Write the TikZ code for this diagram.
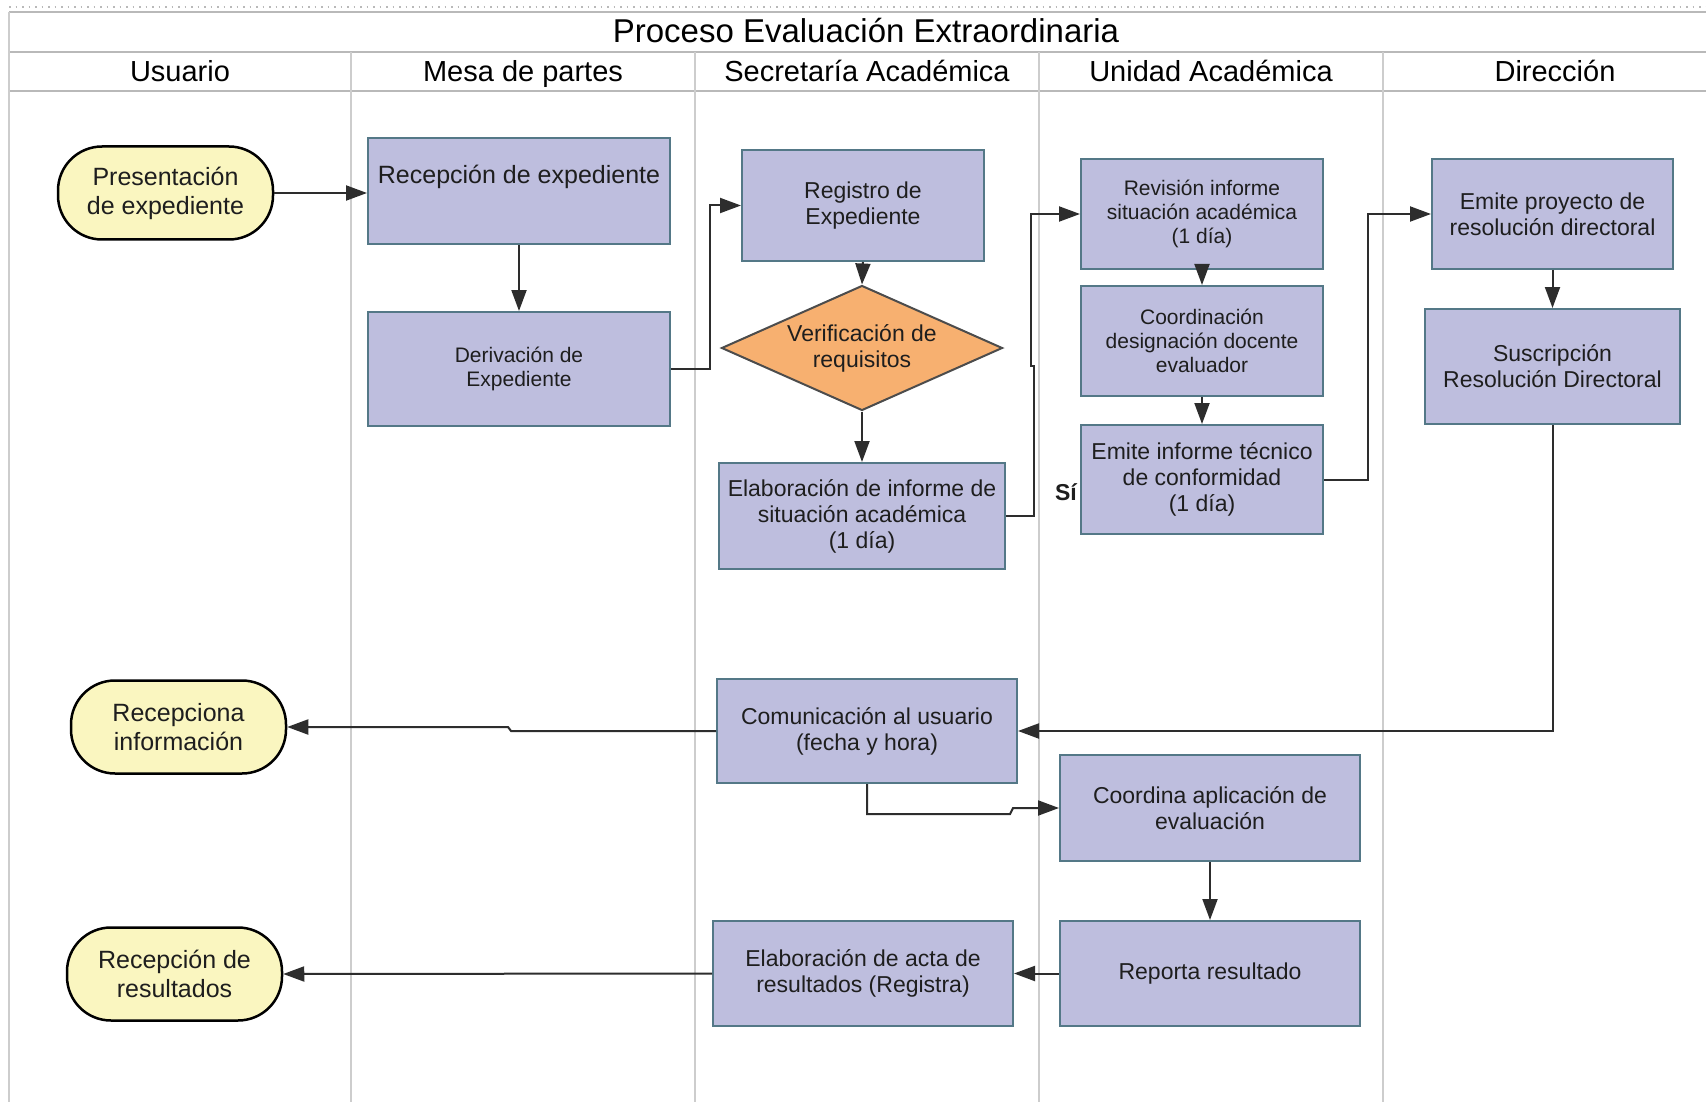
\documentclass[tikz,border=0pt]{standalone}
\usepackage{fontspec}
\setmainfont{Liberation Sans}
\usetikzlibrary{arrows.meta,shapes.geometric}
\definecolor{procfill}{RGB}{190,190,222}
\definecolor{procdraw}{RGB}{84,120,135}
\definecolor{termfill}{RGB}{250,246,192}
\definecolor{decfill}{RGB}{247,176,112}
\definecolor{lanegray}{RGB}{205,205,205}
\definecolor{framegray}{RGB}{185,185,185}
\definecolor{txt}{RGB}{30,30,30}
\definecolor{wire}{RGB}{45,45,45}

\begin{document}
\begin{tikzpicture}[x=1pt,y=-1pt,
  proc/.style={draw=procdraw, line width=2pt, fill=procfill, align=center, text=txt,
               inner sep=0pt, font=\fontsize{23}{26}\selectfont},
  procsmall/.style={proc, font=\fontsize{21}{24}\selectfont},
  term/.style={draw=black, line width=2.5pt, fill=termfill, rounded corners=44pt, align=center,
               text=txt, inner sep=0pt, font=\fontsize{25}{29}\selectfont,
               minimum width=215pt, minimum height=93pt},
  dec/.style={diamond, draw=black!70, line width=2pt, fill=decfill, align=center, text=txt,
              inner sep=0pt, aspect=2.25, font=\fontsize{23}{26}\selectfont,
              minimum width=281pt, minimum height=125pt},
  flow/.style={draw=wire, line width=2pt, -{Triangle[length=21pt,width=15pt]}},
  lane/.style={draw=lanegray, line width=1.5pt},
  rule/.style={draw=framegray, line width=2pt},
  head/.style={text=black, anchor=base, font=\fontsize{29}{33}\selectfont},
]
% canvas
\useasboundingbox (0,0) rectangle (1706,1102);
\fill[white] (0,0) rectangle (1706,1102);
\begin{scope}
\clip (0,0) rectangle (1706,1102);

% pool frame
\draw[framegray, line width=1.2pt, dash pattern=on 1.5pt off 5pt] (9,7) -- (1706,7);
\draw[rule] (9,12) -- (1706,12);
\draw[rule] (9,52) -- (1706,52);
\draw[rule] (9,91) -- (1706,91);
\draw[lane] (9,12) -- (9,1102);
\foreach \lx in {351,695,1039,1383} \draw[lane] (\lx,52) -- (\lx,1102);

% titles
\node[text=black, anchor=base, font=\fontsize{33}{38}\selectfont] (title) at (866,43) {Proceso Evaluación Extraordinaria};
\node[head] (hUsuario)    at (180,82)  {Usuario};
\node[head] (hMesa)       at (523,82)  {Mesa de partes};
\node[head] (hSecretaria) at (867,82)  {Secretaría Académica};
\node[head] (hUnidad)     at (1211,82) {Unidad Académica};
\node[head] (hDireccion)  at (1555,82) {Dirección};

% Usuario
\node[term] (pres)    at (165.5,193) {Presentación\\de expediente};
\node[term] (recinfo) at (178.5,727) {Recepciona\\información};
\node[term] (recres)  at (174.5,974) {Recepción de\\resultados};

% Mesa de partes
\node[proc, minimum width=302pt, minimum height=106pt] (recep) at (519,191) {};
\node[text=txt, font=\fontsize{25}{29}\selectfont] (receptxt) at (519,177) {Recepción de expediente};
\node[procsmall, minimum width=302pt, minimum height=114pt] (deriv) at (519,369) {Derivación de\\Expediente};

% Secretaría Académica
\node[proc, minimum width=242pt, minimum height=111pt] (regis) at (863,205.5) {Registro de\\Expediente};
\node[dec] (verif) at (862,348) {Verificación de\\requisitos};
\node[proc, minimum width=286pt, minimum height=106pt] (elab) at (862,516) {Elaboración de informe de\\situación académica\\(1 día)};
\node[proc, minimum width=300pt, minimum height=104pt] (comun) at (867,731) {Comunicación al usuario\\(fecha y hora)};
\node[proc, minimum width=300pt, minimum height=105pt] (acta) at (863,973.5) {Elaboración de acta de\\resultados (Registra)};

% Unidad Académica
\node[procsmall, minimum width=242pt, minimum height=110pt] (revis) at (1202,214) {Revisión informe\\situación académica\\(1 día)};
\node[procsmall, minimum width=242pt, minimum height=110pt] (coord) at (1202,341) {Coordinación\\designación docente\\evaluador};
\node[proc, minimum width=242pt, minimum height=109pt] (emite) at (1202,479.5) {Emite informe técnico\\de conformidad\\(1 día)};
\node[text=txt, font=\bfseries\fontsize{23}{26}\selectfont] (si) at (1066,492) {Sí};
\node[proc, minimum width=300pt, minimum height=106pt] (coordap) at (1210,808) {Coordina aplicación de\\evaluación};
\node[proc, minimum width=300pt, minimum height=105pt] (report) at (1210,973.5) {Reporta resultado};

% Dirección
\node[proc, minimum width=241pt, minimum height=110pt] (proy) at (1552.5,214) {Emite proyecto de\\resolución directoral};
\node[proc, minimum width=255pt, minimum height=115pt] (susc) at (1552.5,366.5) {Suscripción\\Resolución Directoral};

% bends of the connectors
\coordinate (elabA) at (1034,516);
\coordinate (elabB) at (1034,366);
\coordinate (elabC) at (1031,366);
\coordinate (comA) at (511,731);
\coordinate (comB) at (508,727);
\coordinate (apA) at (867,814);
\coordinate (apB) at (1010,814);
\coordinate (apC) at (1013,808);

% flow
\draw[flow] (pres.east) -- (pres.east -| recep.west);
\draw[flow] (recep.south) -- (deriv.north);
\draw[flow] (deriv.east) -- ++(39,0) |- (regis.west);
\draw[flow] (regis.south) -- (verif.north);
\draw[flow] (verif.south) -- (elab.north);
\draw[flow] (elab.east) -- (elabA) -- (elabB) -- (elabC) |- (revis.west);
\draw[flow] (revis.south) -- (coord.north);
\draw[flow] (coord.south) -- (emite.north);
\draw[flow] (emite.east) -- ++(44,0) |- (proy.west);
\draw[flow] (proy.south) -- (susc.north);
\draw[flow] (susc.south) |- (comun.east);
\draw[flow] (comun.west) -- (comA) -- (comB) -- (recinfo.east);
\draw[flow] (comun.south) -- (apA) -- (apB) -- (apC) -- (coordap.west);
\draw[flow] (coordap.south) -- (report.north);
\draw[flow] (report.west) -- (acta.east);
\draw[flow] (acta.west) -- (recres.east);
\end{scope}
\end{tikzpicture}
\end{document}
